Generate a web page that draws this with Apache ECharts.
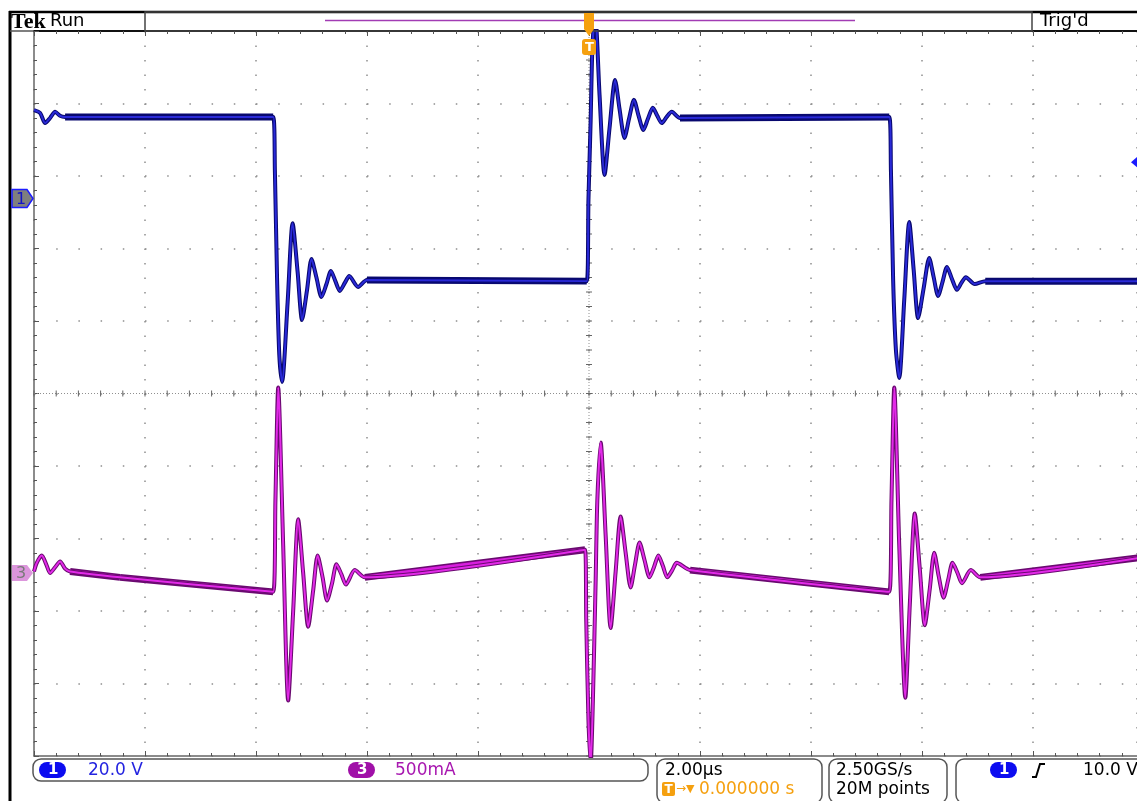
<!DOCTYPE html>
<html><head><meta charset="utf-8">
<script src="https://cdn.jsdelivr.net/npm/echarts@6/dist/echarts.min.js"></script>
<style>html,body{margin:0;padding:0;background:#fff}#c{width:1137px;height:801px}</style>
</head><body><div id="c"></div>
<script>
// ---- data (time in µs, ch1 in V, ch3 in A) ----
const ch1Time = [-10.00,-9.89,-9.80,-9.71,-9.62,-9.53,-9.44,-5.69,-5.66,-5.62,-5.58,-5.53,-5.43,-5.34,-5.25,-5.17,-5.08,-5.00,-4.91,-4.82,-4.73,-4.65,-4.57,-4.49,-4.40,-4.32,-4.16,-4.00,-0.04,-0.01,0.03,0.06,0.11,0.19,0.28,0.37,0.47,0.55,0.64,0.72,0.81,0.89,0.98,1.06,1.15,1.23,1.31,1.40,1.49,1.64,5.41,5.44,5.48,5.53,5.59,5.68,5.77,5.85,5.93,6.03,6.13,6.21,6.29,6.37,6.45,6.54,6.63,6.71,6.79,6.95,7.14,10.00];
const ch1Volt = [24.4,23.6,20.8,22.2,23.9,22.8,22.5,22.5,7.9,-22.5,-43.2,-50.6,-28.6,-6.8,-20.3,-33.5,-25.2,-16.7,-21.9,-27.2,-23.6,-20.0,-22.8,-25.5,-23.3,-21.4,-24.4,-22.5,-22.8,-0.4,21.7,41.0,51.4,28.6,6.5,19.4,32.7,24.7,16.7,21.9,27.2,23.0,18.9,21.9,25.0,22.8,20.8,22.5,23.9,22.2,22.5,7.9,-22.5,-41.8,-49.5,-28.0,-6.5,-19.7,-33.0,-24.7,-16.4,-21.7,-26.9,-23.0,-18.9,-22.2,-25.2,-23.3,-21.7,-23.6,-22.8,-22.8];
const ch3Time = [-10.00,-9.95,-9.86,-9.78,-9.71,-9.62,-9.53,-9.44,-9.35,-8.45,-5.69,-5.65,-5.60,-5.51,-5.42,-5.33,-5.24,-5.15,-5.06,-4.97,-4.89,-4.80,-4.72,-4.63,-4.55,-4.46,-4.38,-4.22,-4.04,-0.07,-0.05,-0.01,0.03,0.07,0.12,0.15,0.21,0.30,0.39,0.48,0.57,0.66,0.75,0.83,0.91,1.00,1.09,1.17,1.25,1.33,1.41,1.50,1.58,1.82,5.41,5.45,5.50,5.59,5.70,5.78,5.87,5.96,6.05,6.14,6.22,6.30,6.39,6.47,6.55,6.64,6.72,6.88,7.05,10.00];
const ch3Amp = [0.01,0.07,0.12,0.06,0.00,0.04,0.08,0.03,0.01,-0.03,-0.13,0.50,1.28,0.19,-0.88,-0.26,0.37,0.00,-0.37,-0.12,0.12,-0.03,-0.19,-0.07,0.06,-0.01,-0.08,0.02,-0.03,0.16,-0.32,-1.01,-1.32,-0.88,-0.05,0.50,0.90,0.26,-0.38,0.01,0.39,0.14,-0.10,0.06,0.21,0.09,-0.03,0.04,0.12,0.05,-0.03,0.02,0.07,0.02,-0.13,0.50,1.28,0.19,-0.86,-0.22,0.41,0.03,-0.36,-0.11,0.14,-0.02,-0.17,-0.05,0.07,0.00,-0.07,0.02,-0.03,0.11];

// scope settings (as shown in the readouts)
const timePerDiv = 2;        // µs/div
const ch1PerDiv = 20;        // V/div
const ch3PerDiv = 0.5;       // A/div
const ch1Position = 2.69;    // divisions above centre
const ch3Position = -2.476;  // divisions above centre
const trigLevel = 10;        // V
const hDivs = 10, vDivs = 10;

const labelsTop = ["Tek", "Run", "Trig'd"];
const readouts = {ch1: "20.0 V", ch3: "500mA", tb: "2.00µs", pos: "0.000000 s", rate: "2.50GS/s", pts: "20M points", trig: "10.0 V"};

// ---- layout ----
const W = 1137;
const GL = 34, GT = 31, DIVW = 111, GH = 725;   // the screen is cropped on the right
const GW = W - GL;
const visibleDivs = GW / DIVW;
const FONT = 'DejaVu Sans';

const zip = (a, b) => a.map((v, i) => [v, b[i]]);
// long quiet stretches (plateaus / ramps) carry a thicker noise band on a scope
const quietSegments = (a, b) => {
  const out = [];
  for (let i = 0; i + 1 < a.length; i++) if (a[i + 1] - a[i] > 0.8) out.push([[a[i], b[i]], [a[i + 1], b[i + 1]]]);
  return out;
};
const chart = echarts.init(document.getElementById('c'), null, {renderer: 'canvas'});

const dotV = {color: '#8f8f8f', width: 1.5, type: [1.5, GH / (vDivs * 5) - 1.5], dashOffset: 0};
const dotH = {color: '#8f8f8f', width: 1.5, type: [1.5, DIVW / 5 - 1.5], dashOffset: 0};

const xMin = -timePerDiv * hDivs / 2;
const xBase = {
  type: 'value', min: xMin, max: xMin + visibleDivs * timePerDiv, interval: timePerDiv,
  axisLabel: {show: false},
  minorTick: {show: true, splitNumber: 5, length: 3, lineStyle: {color: '#555', width: 1}},
  axisTick: {show: true, inside: true, length: 5, lineStyle: {color: '#555', width: 1}}
};
const SMOOTH = 0.25;

const bandSeries = (segs, yIdx, color, width, z) => segs.map((d, i) => ({
  name: 'band' + yIdx + '_' + z + '_' + i, type: 'line', xAxisIndex: 0, yAxisIndex: yIdx, data: d,
  showSymbol: false, silent: true, lineStyle: {color, width}, z}));

const seg1 = quietSegments(ch1Time, ch1Volt);
const seg3 = quietSegments(ch3Time, ch3Amp);

chart.setOption({
  animation: false,
  backgroundColor: '#fff',
  grid: {left: GL, top: GT, width: GW, height: GH, show: false},
  xAxis: [
    Object.assign({}, xBase, {position: 'bottom', axisLine: {show: true, onZero: false, lineStyle: {color: '#666', width: 1.5}},
      splitLine: {show: true, lineStyle: dotV}}),
    Object.assign({}, xBase, {position: 'top', axisLine: {show: true, onZero: false, lineStyle: {color: '#111', width: 2}},
      splitLine: {show: false}})
  ],
  yAxis: [
    {type: 'value', min: -vDivs / 2, max: vDivs / 2, interval: 1, position: 'left',
      axisLabel: {show: false},
      axisLine: {show: true, onZero: false, lineStyle: {color: '#666', width: 1.5}},
      axisTick: {show: true, inside: true, length: 5, lineStyle: {color: '#555'}},
      minorTick: {show: true, splitNumber: 5, length: 3, lineStyle: {color: '#555'}},
      splitLine: {show: true, lineStyle: dotH}},
    {type: 'value', show: false, position: 'left',
      min: (-vDivs / 2 - ch1Position) * ch1PerDiv, max: (vDivs / 2 - ch1Position) * ch1PerDiv},
    {type: 'value', show: false, position: 'right',
      min: (-vDivs / 2 - ch3Position) * ch3PerDiv, max: (vDivs / 2 - ch3Position) * ch3PerDiv}
  ],
  series: [].concat(
    bandSeries(seg3, 2, '#6a0a70', 7, 2),
    bandSeries(seg3, 2, '#d81ede', 3.5, 2.5),
    [{name: 'ch3 edge', type: 'line', xAxisIndex: 0, yAxisIndex: 2, data: zip(ch3Time, ch3Amp), showSymbol: false, silent: true, smooth: SMOOTH,
      lineStyle: {color: '#6a0a70', width: 4}, z: 3},
    {name: 'ch3', type: 'line', xAxisIndex: 0, yAxisIndex: 2, data: zip(ch3Time, ch3Amp), showSymbol: false, silent: true, smooth: SMOOTH,
      lineStyle: {color: '#e22ae8', width: 2}, z: 4}],
    bandSeries(seg1, 1, '#08086e', 7, 4.5),
    bandSeries(seg1, 1, '#1a1ac4', 3.5, 4.7),
    [{name: 'ch1 edge', type: 'line', xAxisIndex: 0, yAxisIndex: 1, data: zip(ch1Time, ch1Volt), showSymbol: false, silent: true, smooth: SMOOTH,
      lineStyle: {color: '#08086e', width: 4}, z: 5},
    {name: 'ch1', type: 'line', xAxisIndex: 0, yAxisIndex: 1, data: zip(ch1Time, ch1Volt), showSymbol: false, silent: true, smooth: SMOOTH,
      lineStyle: {color: '#2a2ad8', width: 2}, z: 6}]
  )
});

// ---- decorations positioned through the axes ----
const px = t => chart.convertToPixel({xAxisIndex: 0}, t);
const py = d => chart.convertToPixel({yAxisIndex: 0}, d);
const py1 = v => chart.convertToPixel({yAxisIndex: 1}, v);
const py3 = v => chart.convertToPixel({yAxisIndex: 2}, v);

const g = [];
const line = (x1, y1, x2, y2, stroke, w, dash) => g.push({type: 'line', silent: true, z: 1,
  shape: {x1, y1, x2, y2}, style: {stroke, lineWidth: w, lineDash: dash || null}});
const text = (x, y, t, fill, size, extra) => g.push(Object.assign({type: 'text', silent: true, z: 20, x, y,
  style: Object.assign({text: t, fill, font: (size || 17) + 'px "' + FONT + '"', textVerticalAlign: 'middle'}, extra || {})}));

// centre cross with dense dots and small ticks
const cx = px(0), cy = py(0);
line(cx, GT, cx, GT + GH, '#8f8f8f', 1, [1, 2]);
line(GL, cy, W, cy, '#8f8f8f', 1, [1, 2]);
for (let k = -vDivs * 5 / 2; k <= vDivs * 5 / 2; k++) { const y = py(k / 5); line(cx - 3, y, cx + 3, y, '#666', 1); }
for (let k = -hDivs * 5 / 2; k <= hDivs * 5 / 2; k++) { const x = px(k * timePerDiv / 5); if (x <= W) line(x, cy - 3, x, cy + 3, '#666', 1); }

// outer frame
line(10, 11, 10, 801, '#000', 3);
line(9, 12, W, 12, '#000', 2.5);
line(10, GT, GL, GT, '#555', 1.5);
// top status boxes
g.push({type: 'rect', silent: true, z: 10, shape: {x: 145, y: 12, width: 887, height: 19}, style: {fill: 'none', stroke: '#444', lineWidth: 1.5}});
line(325, 20.5, 855, 20.5, '#a23cb4', 1.5);
text(11, 22, labelsTop[0], '#000', 22, {font: 'bold 22px "Liberation Serif"'});
text(50, 21, labelsTop[1], '#000', 18);
text(1040, 21, labelsTop[2], '#000', 18);
// trigger position marker
g.push({type: 'polygon', silent: true, z: 12, shape: {points: [[cx - 5, 13], [cx + 5, 13], [cx + 5, 29], [cx, 36], [cx - 5, 29]]}, style: {fill: '#f5a00f'}});
line(cx, 13, cx, 30, '#000', 1.5);
g.push({type: 'rect', silent: true, z: 12, shape: {x: cx - 7, y: 39, width: 14, height: 16, r: 3}, style: {fill: '#f5a00f'}});
text(cx - 4, 47.5, 'T', '#fff', 13, {font: 'bold 13px "' + FONT + '"'});

// channel ground markers
const m1 = py1(0), m3 = py3(0);
g.push({type: 'polygon', silent: true, z: 12, shape: {points: [[12, m1 - 9], [27, m1 - 9], [33, m1], [27, m1 + 9], [12, m1 + 9]]}, style: {fill: '#7f7f7f', stroke: '#1c1cff', lineWidth: 1.5}});
text(16, m1 + 1, '1', '#1414c8', 16);
g.push({type: 'polygon', silent: true, z: 12, shape: {points: [[12, m3 - 8], [27, m3 - 8], [33, m3], [27, m3 + 8], [12, m3 + 8]]}, style: {fill: '#dc96dc'}});
text(16, m3 + 1, '3', '#7a7a7a', 16);
// trigger level arrow
const tl = py1(trigLevel);
g.push({type: 'polygon', silent: true, z: 12, shape: {points: [[1138, tl - 6], [1131, tl], [1138, tl + 6]]}, style: {fill: '#1c1cff'}});

// bottom readout boxes
const box = (x, y, w, h) => g.push({type: 'rect', silent: true, z: 10, shape: {x, y, width: w, height: h, r: 8}, style: {fill: 'none', stroke: '#555', lineWidth: 1.5}});
const pill = (x, y, label, fill) => {
  g.push({type: 'rect', silent: true, z: 12, shape: {x, y, width: 27, height: 16, r: 8}, style: {fill}});
  text(x + 9, y + 8.5, label, '#fff', 15, {font: 'bold 15px "' + FONT + '"'});
};
box(33, 759, 615, 22);
pill(39, 762, '1', '#0c0cf0');
text(88, 770.5, readouts.ch1, '#2424e0', 17);
pill(348, 762, '3', '#a010a8');
text(395, 770.5, readouts.ch3, '#a818b0', 17);
box(657, 759, 165, 44);
text(665, 770.5, readouts.tb, '#000', 17);
g.push({type: 'rect', silent: true, z: 12, shape: {x: 662, y: 782, width: 13, height: 14, r: 2}, style: {fill: '#f5a00f'}});
text(664.5, 789.5, 'T', '#fff', 12, {font: 'bold 12px "' + FONT + '"'});
text(676, 789, '→', '#f5a00f', 12);
text(686, 789, '▼', '#f5a00f', 11);
text(699, 789.5, readouts.pos, '#f5a00f', 17);
box(829, 759, 118, 44);
text(836, 770.5, readouts.rate, '#000', 17);
text(836, 789.5, readouts.pts, '#000', 17);
box(956, 759, 200, 44);
pill(990, 762, '1', '#0c0cf0');
g.push({type: 'polyline', silent: true, z: 12, shape: {points: [[1032, 777], [1036, 777], [1040, 764], [1045, 764]]}, style: {stroke: '#000', lineWidth: 2, fill: null}});
text(1083, 770.5, readouts.trig, '#000', 17);

chart.setOption({graphic: {elements: g}});
</script></body></html>
